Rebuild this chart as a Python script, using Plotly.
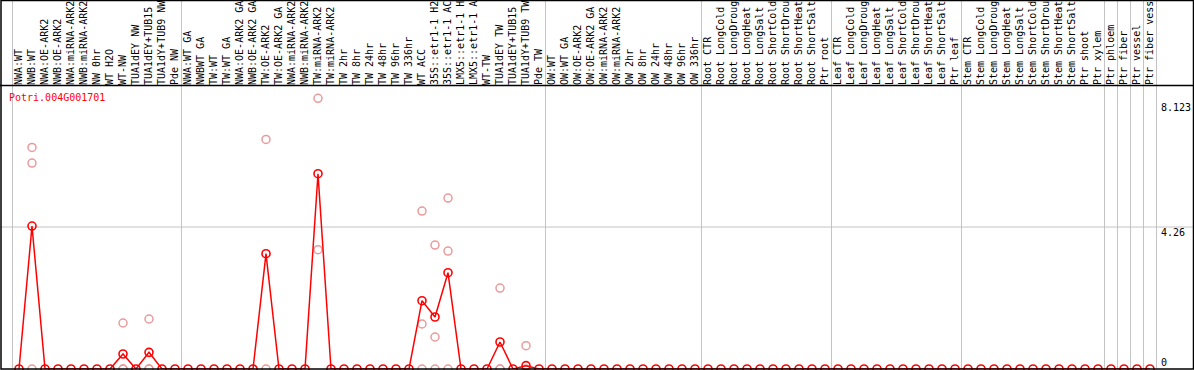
import plotly.graph_objects as go

labels = [
    "NWA:WT", "NWB:WT", "NWA:OE-ARK2", "NWB:OE-ARK2", "NWA:miRNA-ARK2", "NWB:miRNA-ARK2",
    "NW 0hr", "WT H2O", "WT-NW", "TUA1dEY NW", "TUA1dEY+TUB15 NW", "TUA1dY+TUB9 NW", "Pde NW",
    "NWA:WT GA", "NWBWT GA", "TW:WT", "TW:WT GA", "NWA:OE-ARK2 GA", "NWB:OE-ARK2 GA",
    "TW:OE-ARK2", "TW:OE-ARK2 GA", "NWA:miRNA-ARK2", "NWB:miRNA-ARK2", "TW:miRNA-ARK2",
    "TW:miRNA-ARK2", "TW 2hr", "TW 8hr", "TW 24hr", "TW 48hr", "TW 96hr", "TW 336hr",
    "WT ACC", "35S::etr1-1 H2O", "35S::etr1-1 ACC", "LMX5::etr1-1 H2O", "LMX5::etr1-1 ACC",
    "WT-TW", "TUA1dEY TW", "TUA1dEY+TUB15 TW", "TUA1dY+TUB9 TW", "Pde TW",
    "OW:WT", "OW:WT GA", "OW:OE-ARK2", "OW:OE-ARK2 GA", "OW:miRNA-ARK2", "OW:miRNA-ARK2",
    "OW 2hr", "OW 8hr", "OW 24hr", "OW 48hr", "OW 96hr", "OW 336hr",
    "Root CTR", "Root LongCold", "Root LongDrought", "Root LongHeat", "Root LongSalt",
    "Root ShortCold", "Root ShortDrought", "Root ShortHeat", "Root ShortSalt", "Ptr root",
    "Leaf CTR", "Leaf LongCold", "Leaf LongDrought", "Leaf LongHeat", "Leaf LongSalt",
    "Leaf ShortCold", "Leaf ShortDrought", "Leaf ShortHeat", "Leaf ShortSalt", "Ptr leaf",
    "Stem CTR", "Stem LongCold", "Stem LongDrought", "Stem LongHeat", "Stem LongSalt",
    "Stem ShortCold", "Stem ShortDrought", "Stem ShortHeat", "Stem ShortSalt", "Ptr shoot",
    "Ptr xylem", "Ptr phloem", "Ptr fiber", "Ptr vessel", "Ptr fiber vessel",
]

# mean expression per sample (1-based index -> value), zero elsewhere
mean_idx = [2, 9, 11, 20, 24, 32, 33, 34, 38, 40]
mean_val = [4.29, 0.45, 0.50, 3.46, 5.86, 2.05, 1.56, 2.89, 0.81, 0.10]

# replicate values
rep_idx = [2, 2, 2, 9, 9, 9, 11, 11, 11, 20, 20, 24, 24,
           32, 32, 32, 33, 33, 33, 34, 34, 34, 38, 38, 38, 40, 40]
rep_val = [6.65, 6.18, 0, 1.38, 0, 0, 1.50, 0, 0, 6.89, 0, 8.123, 3.58,
           4.74, 1.35, 0, 3.72, 0.96, 0, 5.13, 3.54, 0, 2.43, 0, 0, 0.70, 0]

# group boundaries (between samples)
separators = [0.5, 13.5, 41.5, 53.5, 63.5, 73.5, 84.5, 85.5, 86.5, 87.5, 88.5]

y_ticks = [0, 4.26, 8.123]
gene = "Potri.004G001701"

n = len(labels)
x = list(range(1, n + 1))
means = [0.0] * n
for i, v in zip(mean_idx, mean_val):
    means[i - 1] = v

W, H = 1194, 370
ML, MR, MT, MB = 1, 34, 86, 1
PW, PH = W - ML - MR, H - MT - MB

def px_x(p):
    return (p - ML) / PW

def px_y(p):
    return (H - MB - p) / PH

xr0 = 1 - (19 - ML) / 13.0
xr1 = xr0 + PW / 13.0
ytop = 8.123 * PH / (369 - 98.3)

mono = "DejaVu Sans Mono"

fig = go.Figure()
fig.add_trace(go.Scatter(
    x=rep_idx, y=rep_val, mode="markers",
    marker=dict(symbol="circle-open", size=8, color="#eb9a9a", line=dict(width=1.5, color="#eb9a9a")),
    cliponaxis=False, hoverinfo="skip", showlegend=False,
))
fig.add_trace(go.Scatter(
    x=x, y=means, mode="lines+markers",
    line=dict(color="#ff0000", width=1.5),
    marker=dict(symbol="circle-open", size=8, color="#ff0000", line=dict(width=1.6, color="#ff0000")),
    cliponaxis=False, showlegend=False,
))

shapes = []
for s in separators:
    shapes.append(dict(type="line", xref="x", yref="paper", x0=s, x1=s,
                       y0=0, y1=px_y(0), line=dict(color="#c4c4c4", width=1), layer="below"))
shapes.append(dict(type="line", xref="paper", yref="y", x0=px_x(0), x1=px_x(W),
                   y0=4.26, y1=4.26, line=dict(color="#c4c4c4", width=1), layer="below"))
# borders
shapes.append(dict(type="rect", xref="paper", yref="paper", x0=px_x(1), x1=px_x(1193.5),
                   y0=px_y(369), y1=px_y(0.5), line=dict(color="black", width=1.5)))
shapes.append(dict(type="line", xref="paper", yref="paper", x0=px_x(0), x1=px_x(W),
                   y0=px_y(85.5), y1=px_y(85.5), line=dict(color="black", width=1.5)))

yfont = dict(family=mono, size=10, color="black")
common = dict(range=[0, ytop], side="right", showgrid=False, zeroline=False, showline=False,
              ticks="", tickfont=yfont, automargin=False, fixedrange=True)

fig.update_layout(
    width=W, height=H,
    margin=dict(l=ML, r=MR, t=MT, b=MB, pad=0),
    paper_bgcolor="white", plot_bgcolor="white",
    title=dict(text=gene, x=9 / W, xanchor="left", xref="container",
               y=1 - 97 / H, yanchor="middle", yref="container",
               font=dict(family=mono, size=10, color="#ff0000")),
    xaxis=dict(range=[xr0, xr1], side="top", tickmode="array", tickvals=x, ticktext=labels,
               tickangle=-90, tickfont=dict(family=mono, size=10, color="black"),
               showgrid=False, zeroline=False, showline=False, ticks="", automargin=False),
    yaxis=dict(tickmode="array", tickvals=[y_ticks[1]], ticktext=["4.26"], ticklabelshift=5, **common),
    yaxis2=dict(tickmode="array", tickvals=[y_ticks[2]], ticktext=["8.123"], ticklabelshift=9,
                overlaying="y", anchor="x", **common),
    yaxis3=dict(tickmode="array", tickvals=[y_ticks[0]], ticktext=["0"], ticklabelshift=-7,
                overlaying="y", anchor="x", **common),
    shapes=shapes,
)
# invisible anchors so the overlay axes render
fig.add_trace(go.Scatter(x=[xr0], y=[0], yaxis="y2", mode="markers", marker=dict(opacity=0),
                         hoverinfo="skip", showlegend=False))
fig.add_trace(go.Scatter(x=[xr0], y=[0], yaxis="y3", mode="markers", marker=dict(opacity=0),
                         hoverinfo="skip", showlegend=False))

fig.write_html(
    "out.html",
    config={"displayModeBar": False},
    post_script="document.body.style.margin='0';document.body.style.overflow='hidden';",
)
